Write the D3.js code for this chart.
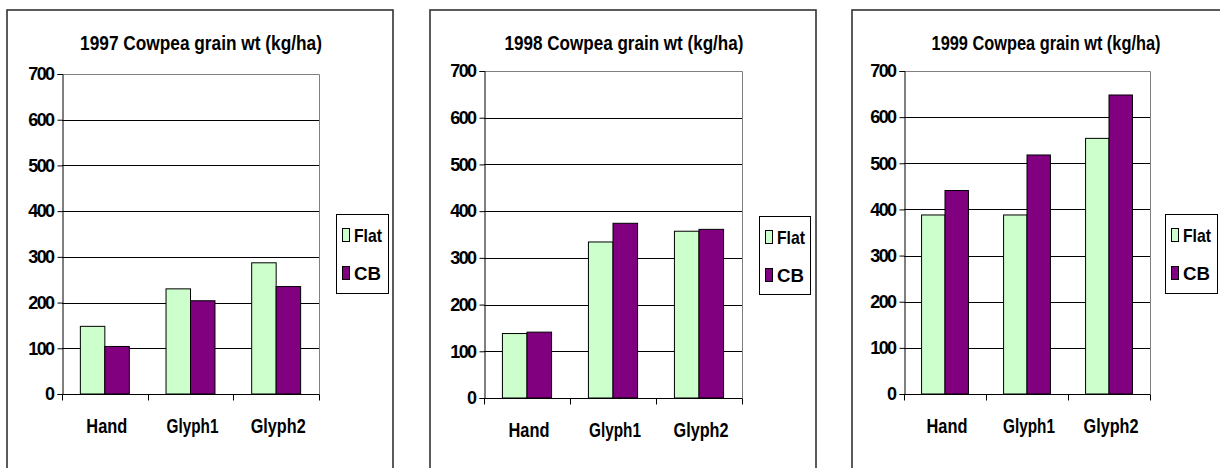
<!DOCTYPE html>
<html>
<head>
<meta charset="utf-8">
<script src="https://cdn.jsdelivr.net/npm/d3@7/dist/d3.min.js"></script>
<style>
  html, body { margin: 0; padding: 0; background: #fff; }
  svg { display: block; }
  text { font-family: "Liberation Sans", Arial, sans-serif; font-weight: bold; fill: #000; }
</style>
</head>
<body>
<svg id="chart" width="1220" height="468"></svg>
<script>
// ---- data ----
const categories = ["Hand", "Glyph1", "Glyph2"];
const seriesNames = ["Flat", "CB"];
const years = ["1997", "1998", "1999"];
const flat1997 = [148, 230, 287];
const cb1997 = [104, 204, 235];
const flat1998 = [138, 334, 357];
const cb1998 = [141, 374, 361];
const flat1999 = [388, 388, 554];
const cb1999 = [441, 518, 648];
const yTicks = [0, 100, 200, 300, 400, 500, 600, 700];
const titleSuffix = " Cowpea grain wt (kg/ha)";

const panelData = [
  { year: years[0], Flat: flat1997, CB: cb1997 },
  { year: years[1], Flat: flat1998, CB: cb1998 },
  { year: years[2], Flat: flat1999, CB: cb1999 }
];

// ---- layout (positions only) ----
const layout = [
  { frameX: 7,   plot: [62, 319, 74, 394],  legend: [336, 214, 52, 79], titleW: 242 },
  { frameX: 430, plot: [484, 742, 71, 398], legend: [759, 216, 51, 78], titleW: 239 },
  { frameX: 852, plot: [904, 1150, 71, 394], legend: [1165, 214, 52, 79], titleW: 229 }
];
const labelWidths = { Hand: 41, Glyph1: 52, Glyph2: 55, Flat: 28, CB: 27 };
const colors = { Flat: "#CCFFCC", CB: "#800080" };

const svg = d3.select("#chart");

// squeeze a text horizontally to a target width, keeping its anchor point
function fit(sel, px, py, w) {
  sel.attr("x", 0).attr("y", 0);
  const nat = sel.node().getComputedTextLength();
  const s = Math.min(1, w / nat);
  sel.attr("transform", `translate(${px},${py}) scale(${s},1)`);
}

panelData.forEach((pd, i) => {
  const L = layout[i];
  const g = svg.append("g");

  // frame
  g.append("rect")
    .attr("x", L.frameX).attr("y", 10)
    .attr("width", 386).attr("height", 500)
    .attr("fill", "#fff").attr("stroke", "#333").attr("stroke-width", 1.6);

  const [x0p, x1p, yTop, yBot] = L.plot;
  const y = d3.scaleLinear().domain([0, 700]).range([yBot, yTop]);
  const x = d3.scaleBand().domain(categories).range([x0p, x1p])
    .paddingInner(1.5 / 3.5).paddingOuter(0.75 / 3.5);
  const xs = d3.scaleBand().domain(seriesNames).range([0, x.bandwidth()]);

  // gridlines
  g.append("g").selectAll("line").data(yTicks.filter(t => t > 0 && t < 700)).join("line")
    .attr("x1", x0p).attr("x2", x1p)
    .attr("y1", d => Math.round(y(d)) + 0.5).attr("y2", d => Math.round(y(d)) + 0.5)
    .attr("stroke", "#000").attr("stroke-width", 1);

  // plot border top/right (gray)
  g.append("path")
    .attr("d", `M${x0p},${Math.round(yTop) + 0.5}H${x1p + 0.5}V${yBot}`)
    .attr("fill", "none").attr("stroke", "#808080").attr("stroke-width", 1);

  // bars
  seriesNames.forEach(s => {
    g.append("g").selectAll("rect").data(categories).join("rect")
      .attr("x", (c) => x(c) + xs(s))
      .attr("y", (c, k) => y(pd[s][k]))
      .attr("width", xs.bandwidth())
      .attr("height", (c, k) => y(0) - y(pd[s][k]))
      .attr("fill", colors[s]).attr("stroke", "#000").attr("stroke-width", 1);
  });

  // y axis
  const yAxis = d3.axisLeft(y).tickValues(yTicks).tickSize(5).tickPadding(4).tickFormat(d3.format("d"));
  const ya = g.append("g").attr("transform", `translate(${x0p + 0.5},0)`).call(yAxis);
  ya.select(".domain").attr("stroke", "#000");
  ya.selectAll(".tick line").attr("stroke", "#000");
  ya.selectAll(".tick text")
    .style("font-size", "18px").style("letter-spacing", "-1.6px")
    .attr("font-family", null).attr("fill", "#000");

  // x axis
  const xa = g.append("g").attr("transform", `translate(0,${yBot + 0.5})`);
  xa.append("line").attr("x1", x0p).attr("x2", x1p + 0.5).attr("stroke", "#000");
  const step = x.step();
  xa.selectAll("line.tk").data(d3.range(categories.length + 1)).join("line")
    .attr("class", "tk")
    .attr("x1", k => Math.round(x0p + k * step) + 0.5).attr("x2", k => Math.round(x0p + k * step) + 0.5)
    .attr("y1", 0).attr("y2", 6).attr("stroke", "#000");
  xa.selectAll("text").data(categories).join("text")
    .attr("text-anchor", "middle")
    .style("font-size", "20px")
    .text(c => c)
    .each(function (c) { fit(d3.select(this), x(c) + x.bandwidth() / 2 + 2, 38, labelWidths[c]); });

  // title
  const t = g.append("text")
    .attr("text-anchor", "middle")
    .style("font-size", "21px")
    .text(pd.year + titleSuffix);
  fit(t, L.frameX + 194, 50, L.titleW);

  // legend
  const [lx, ly, lw, lh] = L.legend;
  const lg = g.append("g");
  lg.append("rect").attr("x", lx + 0.5).attr("y", ly + 0.5).attr("width", lw).attr("height", lh)
    .attr("fill", "#fff").attr("stroke", "#000").attr("stroke-width", 1);
  seriesNames.forEach((s, k) => {
    const cy = ly + 22 + k * 38;
    lg.append("rect").attr("x", lx + 6.5).attr("y", cy - 7.5).attr("width", 7).attr("height", 13)
      .attr("fill", colors[s]).attr("stroke", "#000").attr("stroke-width", 1);
    const lt = lg.append("text").style("font-size", "19px").text(s);
    fit(lt, lx + 18, cy + 6, labelWidths[s]);
  });
});
</script>
</body>
</html>
